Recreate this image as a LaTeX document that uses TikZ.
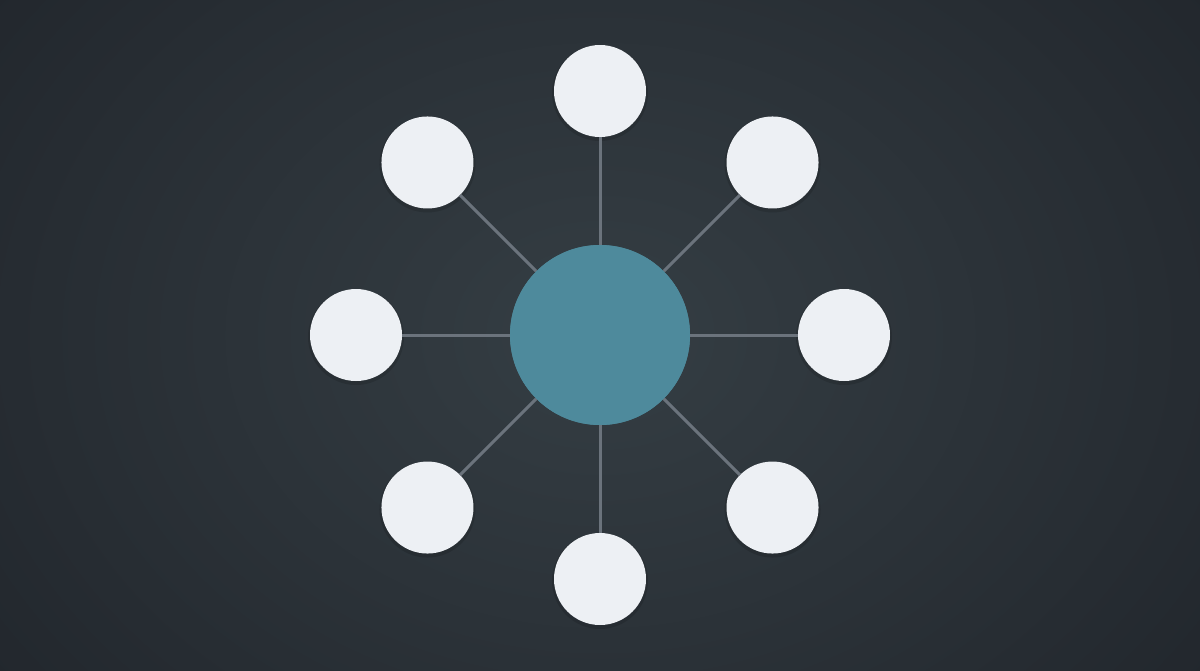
\documentclass[tikz,border=0pt]{standalone}
\usetikzlibrary{calc}
\definecolor{bgmid}{HTML}{353E44}
\definecolor{bgout}{HTML}{22272D}
\definecolor{hubc}{HTML}{4E8A9C}
\definecolor{leafc}{HTML}{EDF0F4}
\definecolor{linkc}{HTML}{6B737C}
\tikzset{
  hubnode/.style={circle, fill=hubc, minimum size=180pt, inner sep=0pt},
  leaf/.style={circle, fill=leafc, minimum size=92pt, inner sep=0pt},
  link/.style={draw=linkc, line width=3pt},
  dropsh/.style={circle, fill=black, fill opacity=0.12, minimum size=96pt, inner sep=0pt}
}
\begin{document}
\begin{tikzpicture}[x=1pt,y=-1pt]
\useasboundingbox (0,0) rectangle (1200,670);
\shade[inner color=bgmid, outer color=bgout] (-150,-250) rectangle (1350,920);
\coordinate (c) at (600,335);
\foreach \a/\n in {90/n,45/ne,0/e,-45/se,-90/s,-135/sw,180/w,135/nw}{
  \coordinate (p\n) at ($(c)+(\a:244 and -244)$);
}
\node[hubnode] (hub) at (c) {};
\foreach \n in {n,ne,e,se,s,sw,w,nw}{
  \node[dropsh] (sh\n) at ($(p\n)+(0,2)$) {};
  \node[leaf] (\n) at (p\n) {};
  \draw[link] (hub) -- (\n);
}
\node[hubnode] (hub2) at (c) {};
\end{tikzpicture}
\end{document}
